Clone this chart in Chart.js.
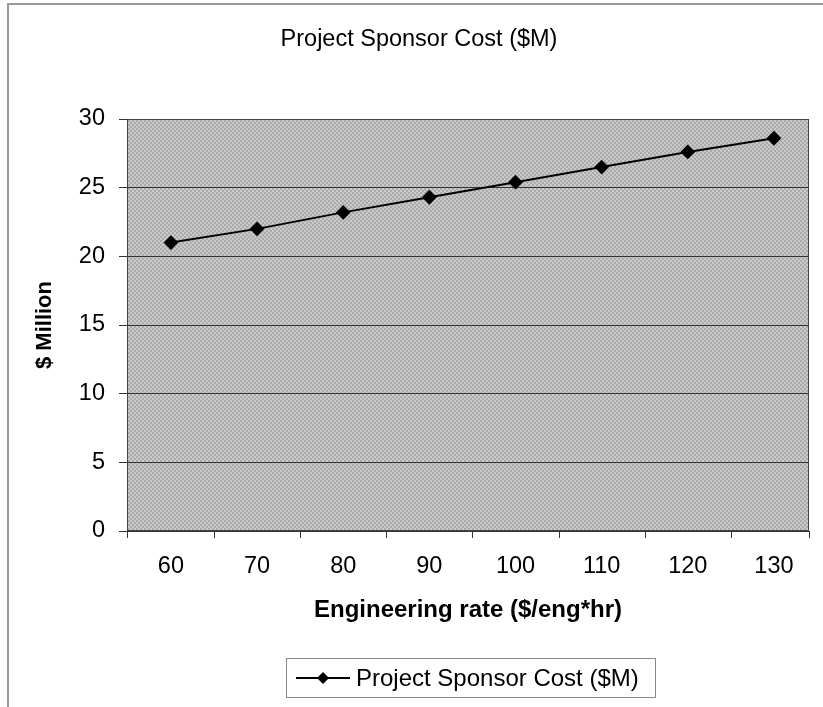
<!DOCTYPE html>
<html>
<head>
<meta charset="utf-8">
<title>Project Sponsor Cost ($M)</title>
<script src="https://cdn.jsdelivr.net/npm/chart.js@4/dist/chart.umd.min.js"></script>
<style>
  html, body { margin: 0; padding: 0; background: #fff; }
  #wrap { width: 823px; height: 707px; position: relative; }
</style>
</head>
<body>
<div id="wrap"><canvas id="c" width="823" height="707"></canvas></div>
<script>
// Engineering rate ($/eng*hr) and the resulting sponsor cost ($ million)
const rates = [60, 70, 80, 90, 100, 110, 120, 130];
const costs = [21.0, 22.0, 23.2, 24.3, 25.4, 26.5, 27.6, 28.6];
const yTicks = [0, 5, 10, 15, 20, 25, 30];
const seriesName = 'Project Sponsor Cost ($M)';

const FONT = '"Liberation Sans", Arial, Helvetica, sans-serif';

// grey checkered fill for the plot area
function makePattern(ctx) {
  const p = document.createElement('canvas');
  p.width = 4; p.height = 4;
  const g = p.getContext('2d');
  g.fillStyle = '#cacaca'; g.fillRect(0, 0, 4, 4);
  g.fillStyle = '#aaaaaa';
  g.fillRect(0, 0, 2, 2); g.fillRect(2, 2, 2, 2);
  return ctx.createPattern(p, 'repeat');
}

const frameAndPlot = {
  id: 'frameAndPlot',
  beforeDraw(chart) {
    const { ctx, chartArea: a } = chart;
    ctx.save();
    // outer frame (left and top edges)
    ctx.strokeStyle = '#9a9a9a';
    ctx.lineWidth = 2;
    ctx.beginPath();
    ctx.moveTo(8, 707); ctx.lineTo(8, 4); ctx.lineTo(823, 4);
    ctx.stroke();
    // chart title
    ctx.fillStyle = '#000';
    ctx.font = '23.5px ' + FONT;
    ctx.textAlign = 'center';
    ctx.textBaseline = 'middle';
    ctx.fillText(seriesName, 419, 40);
    // plot background
    ctx.fillStyle = makePattern(ctx);
    ctx.fillRect(a.left, a.top, a.right - a.left, a.bottom - a.top);
    ctx.restore();
  },
  beforeDatasetsDraw(chart) {
    const { ctx, chartArea: a, scales } = chart;
    ctx.save();
    // plot border
    ctx.strokeStyle = '#444';
    ctx.lineWidth = 1;
    ctx.strokeRect(a.left + 0.5, a.top + 0.5, a.right - a.left - 1, a.bottom - a.top - 1);
    // x tick marks between categories
    const xs = scales.x;
    const marks = [xs.min, 65, 75, 85, 95, 105, 115, 125, xs.max];
    ctx.strokeStyle = '#333';
    ctx.beginPath();
    marks.forEach(v => {
      const px = Math.round(xs.getPixelForValue(v)) + 0.5;
      ctx.moveTo(px, a.bottom); ctx.lineTo(px, a.bottom + 7);
    });
    ctx.stroke();
    ctx.restore();
  },
  afterDraw(chart) {
    // legend box
    const { ctx } = chart;
    const ds = chart.data.datasets[0];
    ctx.save();
    ctx.strokeStyle = '#8a8a8a';
    ctx.lineWidth = 1;
    ctx.strokeRect(286.5, 658.5, 369, 39);
    const ly = 678;
    ctx.strokeStyle = ds.borderColor;
    ctx.lineWidth = 2;
    ctx.beginPath(); ctx.moveTo(296, ly); ctx.lineTo(350, ly); ctx.stroke();
    ctx.fillStyle = ds.pointBackgroundColor;
    ctx.beginPath();
    ctx.moveTo(323, ly - 6); ctx.lineTo(329, ly); ctx.lineTo(323, ly + 6); ctx.lineTo(317, ly);
    ctx.closePath(); ctx.fill();
    ctx.fillStyle = '#000';
    ctx.font = '24px ' + FONT;
    ctx.textBaseline = 'middle';
    ctx.textAlign = 'left';
    ctx.fillText(ds.label, 356, ly + 1);
    ctx.restore();
  }
};

new Chart(document.getElementById('c'), {
  type: 'line',
  data: {
    datasets: [{
      label: seriesName,
      data: rates.map((r, i) => ({ x: r, y: costs[i] })),
      borderColor: '#000',
      borderWidth: 2,
      pointStyle: 'rectRot',
      pointRadius: 6,
      pointHoverRadius: 6,
      pointBackgroundColor: '#000',
      pointBorderColor: '#000',
      tension: 0,
      fill: false
    }]
  },
  options: {
    responsive: false,
    animation: false,
    events: [],
    layout: { padding: { left: 0, right: 14, top: 119, bottom: 76 } },
    plugins: {
      legend: { display: false },
      tooltip: { enabled: false },
      title: { display: false }
    },
    scales: {
      x: {
        type: 'linear',
        min: 54.9,
        max: 134.07,
        afterBuildTicks(scale) { scale.ticks = rates.map(v => ({ value: v })); },
        afterFit(scale) { scale.height = 100; },
        grid: { drawOnChartArea: false, drawTicks: false },
        border: { display: false },
        ticks: {
          color: '#000',
          font: { family: FONT, size: 23.5 },
          padding: 21,
          maxRotation: 0,
          autoSkip: false
        },
        title: {
          display: true,
          text: 'Engineering rate ($/eng*hr)',
          color: '#000',
          font: { family: FONT, size: 24, weight: 'bold' },
          padding: { top: 0, bottom: 6 }
        }
      },
      y: {
        min: 0,
        max: 30,
        afterBuildTicks(scale) { scale.ticks = yTicks.map(v => ({ value: v })); },
        afterFit(scale) { scale.width = 127; },
        grid: { color: '#333', lineWidth: 1, tickLength: 8, tickColor: '#333' },
        border: { color: '#333' },
        ticks: {
          color: '#000',
          font: { family: FONT, size: 23.5 },
          padding: 14
        },
        title: {
          display: true,
          text: '$ Million',
          color: '#000',
          font: { family: FONT, size: 22, weight: 'bold' },
          padding: { top: 32, bottom: 0 }
        }
      }
    }
  },
  plugins: [frameAndPlot]
});
</script>
</body>
</html>
